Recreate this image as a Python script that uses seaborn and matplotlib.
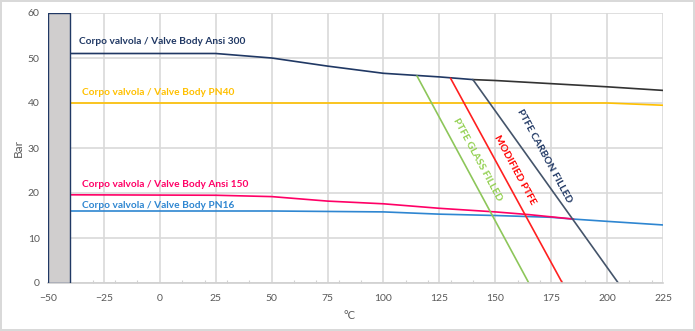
import matplotlib
matplotlib.use("Agg")
import matplotlib.pyplot as plt
import seaborn as sns
import pandas as pd

# ---- data ----
ansi300_x = [-40, 25, 50, 75, 100, 125, 140]
ansi300_y = [51, 51, 50, 48.2, 46.6, 45.8, 45.2]
ansi300b_x = [140, 150, 175, 200, 225]
ansi300b_y = [45.2, 45.0, 44.3, 43.6, 42.8]
pn40_x = [-40, 0, 50, 100, 150, 200, 225]
pn40_y = [40, 40, 40, 40, 40, 40, 39.5]
ansi150_x = [-40, 25, 50, 75, 100, 125, 150, 165, 185]
ansi150_y = [19.6, 19.5, 19.2, 18.2, 17.6, 16.6, 15.8, 15.2, 14.2]
pn16_x = [-40, 25, 50, 100, 125, 150, 175, 185, 200, 225]
pn16_y = [16, 16, 16, 15.8, 15.3, 15.0, 14.6, 14.2, 13.7, 12.9]
glass_x = [115, 165]
glass_y = [46, 0]
modified_x = [130, 180]
modified_y = [45.5, 0]
carbon_x = [140, 205]
carbon_y = [45.2, 0]
bar_x = [-50]
bar_w = [10]
bar_h = [60]

x_ticks = list(range(-50, 226, 25))
y_ticks = list(range(0, 61, 10))

series_labels = [
    ("Corpo valvola / Valve Body Ansi 300", -36, 53.6, "#203864"),
    ("Corpo valvola / Valve Body PN40", -35, 42.3, "#FFC000"),
    ("Corpo valvola / Valve Body Ansi 150", -35, 21.9, "#FF0066"),
    ("Corpo valvola / Valve Body PN16", -35, 17.2, "#2E86D1"),
]
ptfe_labels = [
    ("PTFE GLASS FILLED", 142, 27.5, "#92D050"),
    ("MODIFIED PTFE", 158.5, 25.2, "#FF0000"),
    ("PTFE CARBON FILLED", 172, 28.2, "#203864"),
]

sns.set_theme(style="whitegrid", rc={"grid.color": "#D9D9D9", "grid.linewidth": 1.2})
plt.rcParams['font.family'] = ['Lato', 'DejaVu Sans']

fig = plt.figure(figsize=(6.95, 3.31), dpi=100, edgecolor="#D9D9D9", linewidth=1.5)
ax = fig.add_axes([48/695, 1-283/331, (663-48)/695, (283-13)/331])

ax.bar(bar_x, bar_h, width=bar_w, align='edge', color="#D0CECE",
       edgecolor="#203864", linewidth=1.0, zorder=3)

def line(x, y, c, lw=1.2, z=2):
    sns.lineplot(x=x, y=y, ax=ax, color=c, linewidth=lw, sort=False, zorder=z,
                 estimator=None)

line(pn40_x, pn40_y, "#FFC000")
line(pn16_x, pn16_y, "#2E86D1")
line(ansi150_x, ansi150_y, "#FF0066")
line(ansi300b_x, ansi300b_y, "#333333")
line(ansi300_x, ansi300_y, "#203864")
line(glass_x, glass_y, "#8DC65A")
line(modified_x, modified_y, "#FF2020")
line(carbon_x, carbon_y, "#44546A")

for t, x, y, c in series_labels:
    ax.text(x, y, t, color=c, fontsize=7.3, fontweight='bold', ha='left', va='center')
for t, x, y, c in ptfe_labels:
    ax.text(x, y, t, color=c, fontsize=7.3, fontweight='bold', ha='center', va='center',
            rotation=-61.5, rotation_mode='anchor')

ax.set_xlim(-50, 225)
ax.set_ylim(0, 60)
ax.set_xticks(x_ticks)
ax.set_yticks(y_ticks)
ax.set_xticks(list(range(-50, 226, 10)), minor=True)
for s in ['top', 'right', 'left']:
    ax.spines[s].set_visible(False)
ax.spines['bottom'].set_visible(True)
ax.spines['bottom'].set_color("#D0D0D0")
ax.spines['bottom'].set_linewidth(1.2)
ax.tick_params(axis='both', which='major', labelsize=7.5, labelcolor="#595959", length=0, pad=6)
ax.tick_params(axis='x', which='minor', length=2.5, width=0.8, color="#D0D0D0", direction='in', bottom=True)
ax.tick_params(axis='x', which='major', pad=8)
ax.set_xlabel("°C", fontsize=8, color="#595959")
ax.xaxis.set_label_coords(0.49, -0.1)
ax.set_ylabel("Bar", fontsize=8.5, color="#595959")
ax.yaxis.set_label_coords(-0.04, 0.5)
ax.set_axisbelow(True)
ax.grid(True, which='major', axis='both', color="#D9D9D9", linewidth=1.2)
ax.grid(False, which='minor')

fig.savefig("out.png", dpi=100, edgecolor="#D9D9D9")
